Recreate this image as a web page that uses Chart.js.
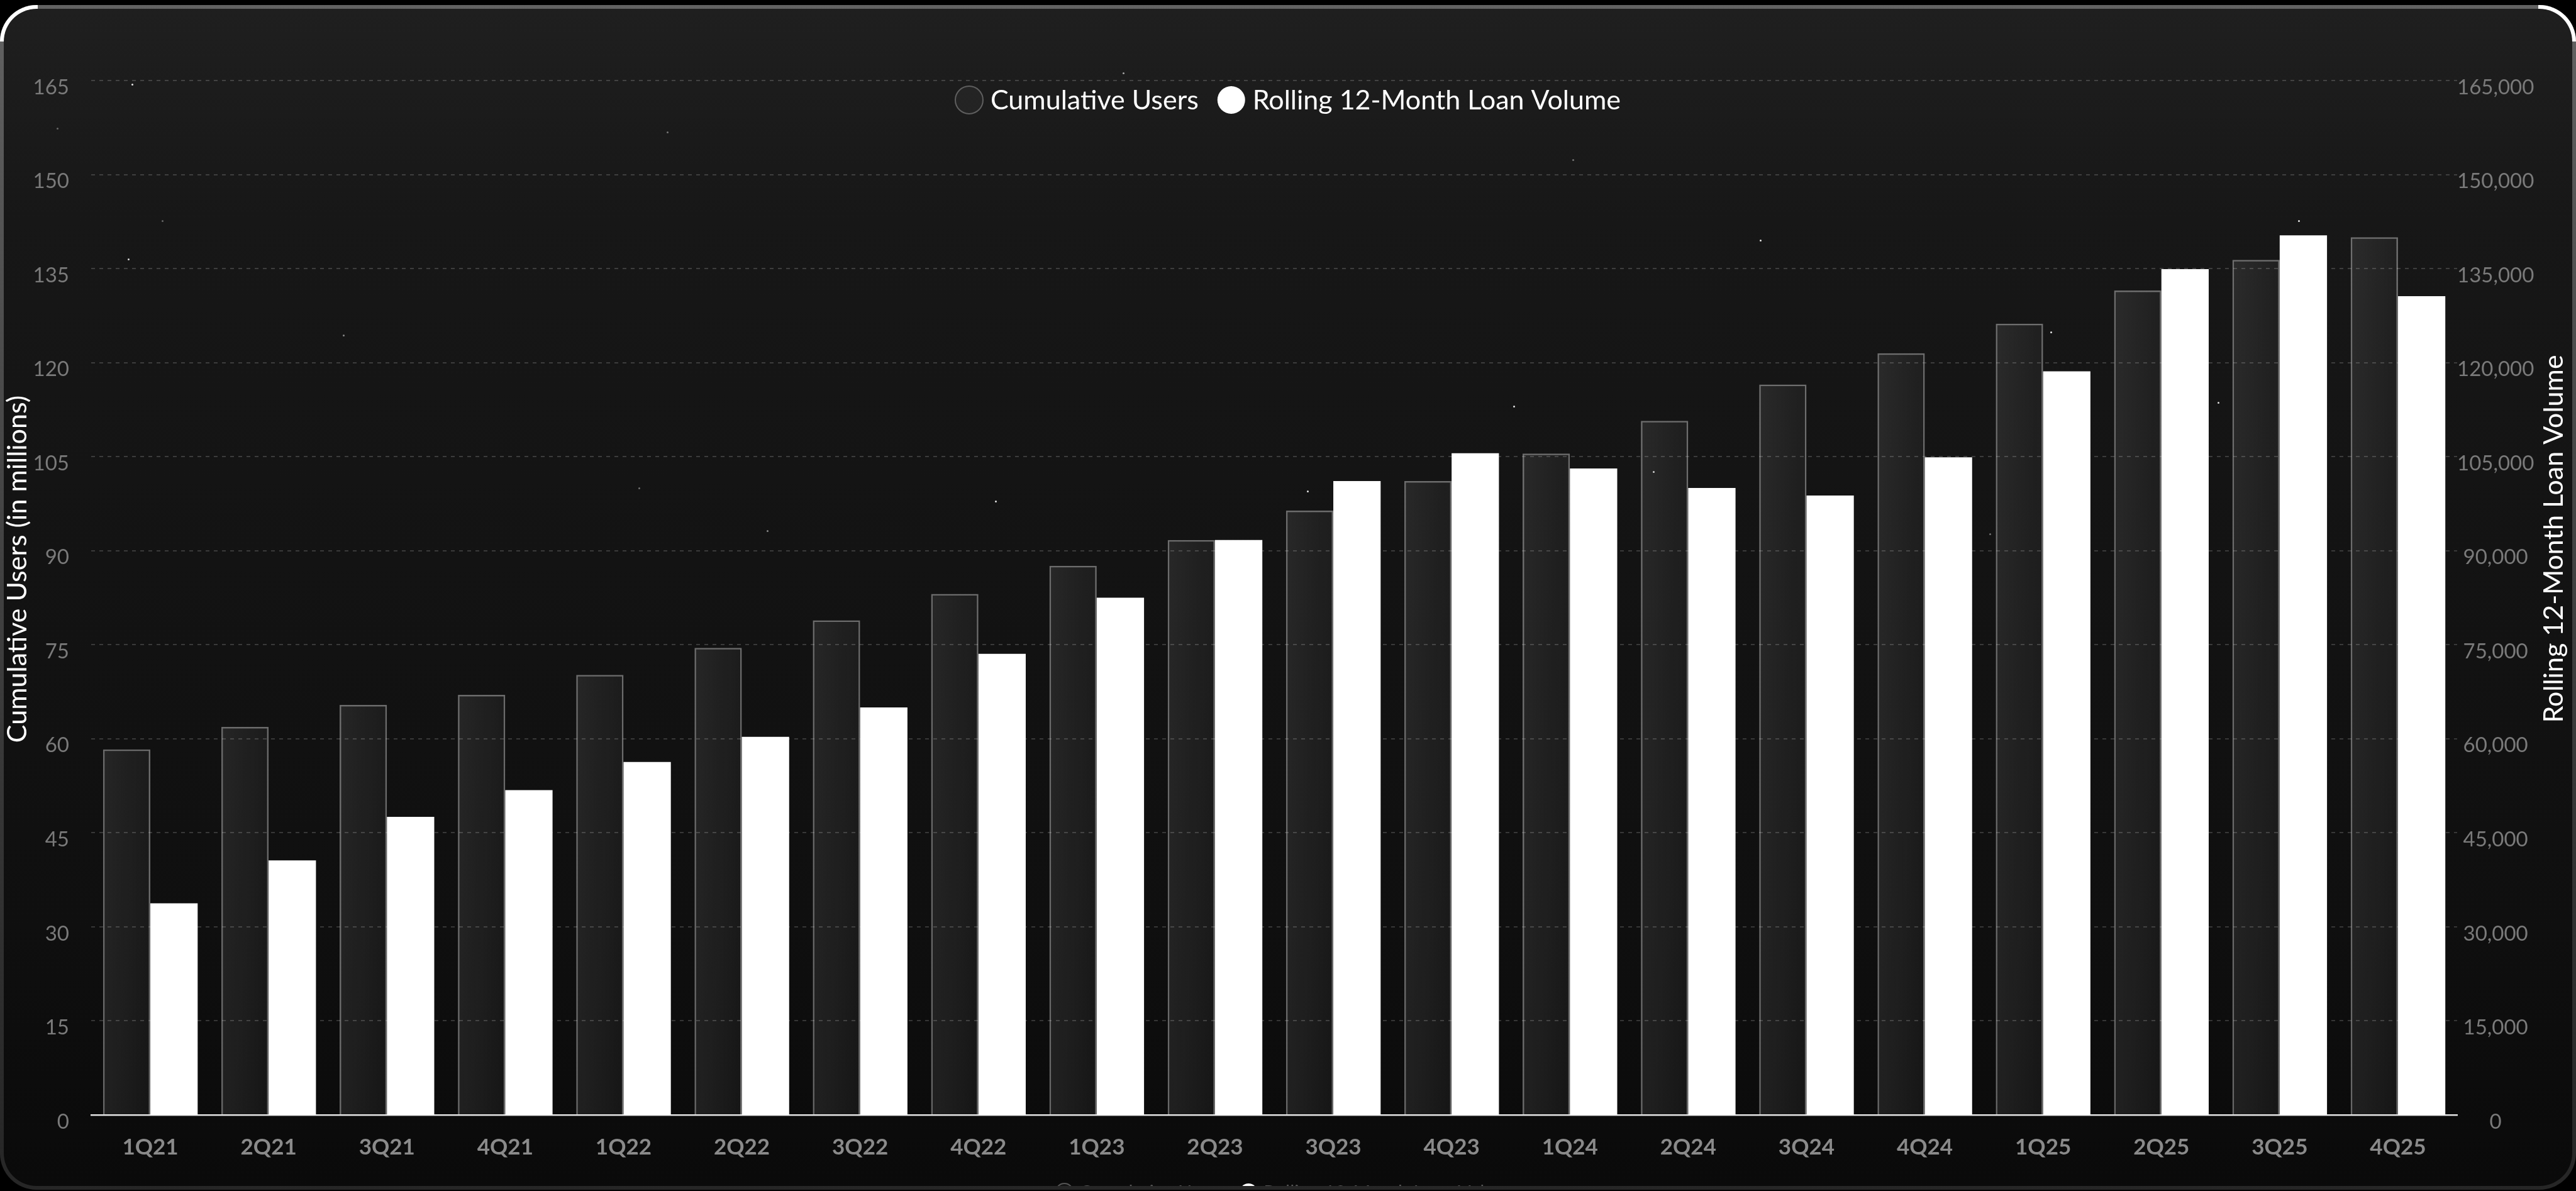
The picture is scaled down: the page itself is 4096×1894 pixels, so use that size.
<!DOCTYPE html>
<html>
<head>
<meta charset="utf-8">
<title>Cumulative Users vs Rolling 12-Month Loan Volume</title>
<script src="https://cdn.jsdelivr.net/npm/chart.js@4.4.1/dist/chart.umd.min.js"></script>
<style>
    html, body { margin: 0; padding: 0; background: #000; }
    body { width: 4096px; height: 1894px; overflow: hidden; position: relative; font-family: Lato, sans-serif; }

    /* outer rim of the card, lighter at the top */
    .rim {
        position: absolute; left: 0; top: 8px; width: 4096px; height: 1884px;
        box-sizing: border-box; padding: 6px; border-radius: 58px;
        background: linear-gradient(180deg, #626262 0%, #4c4c4c 30%, #323232 75%, #262626 100%);
    }
    .card {
        position: relative; width: 100%; height: 100%; border-radius: 52px; overflow: hidden;
        background: linear-gradient(180deg, #1f1f1f 0%, #171717 18%, #131313 47%, #0f0f0f 78%, #0a0a0a 100%);
    }
    /* stage is shifted so canvas pixels match window pixels */
    .stage, .stars { position: absolute; left: -6px; top: -14px; width: 4096px; height: 1894px; }
    .stars span { position: absolute; width: 3px; height: 3px; border-radius: 50%; background: #fff; }

    .glint { position: absolute; top: 8px; width: 60px; height: 58px; box-sizing: border-box; border-top: 6px solid #fff; pointer-events: none; }
    .glint.left { left: 0; border-left: 6px solid #fff; border-top-left-radius: 58px; }
    .glint.right { right: 0; border-right: 6px solid #fff; border-top-right-radius: 58px; }
</style>
</head>
<body>
<div class="rim">
    <div class="card">
        <div class="stars" id="stars"></div>
        <div class="stage"><canvas id="loanChart"></canvas></div>
    </div>
</div>
<div class="glint left"></div>
<div class="glint right"></div>

<script>
// --- data ---
const quarters = ['1Q21', '2Q21', '3Q21', '4Q21', '1Q22', '2Q22', '3Q22', '4Q22', '1Q23', '2Q23',
                  '3Q23', '4Q23', '1Q24', '2Q24', '3Q24', '4Q24', '1Q25', '2Q25', '3Q25', '4Q25'];
const cumulativeUsers = [58.3, 61.9, 65.4, 67.0, 70.2, 74.5, 78.9, 83.1, 87.6, 91.7,
                         96.4, 101.1, 105.5, 110.7, 116.5, 121.5, 126.2, 131.5, 136.4, 140.0];
const loanVolume = [33750, 40600, 47550, 51800, 56300, 60300, 65000, 73550, 82500, 91700,
                    101100, 105550, 103100, 100000, 98800, 104900, 118600, 134900, 140300, 130600];
const seriesNames = ['Cumulative Users', 'Rolling 12-Month Loan Volume'];
const usersAxisTitle = 'Cumulative Users (in millions)';
const loanAxisTitle = 'Rolling 12-Month Loan Volume';
const usersAxisMax = 165, usersAxisStep = 15;
const loanAxisMax = 165000, loanAxisStep = 15000;

// decorative specks in the background [x, y, alpha]
const starDust = [
    [209, 133, 0.9], [90, 203, 0.35], [257, 350, 0.35], [203, 411, 0.85], [545, 532, 0.5],
    [1060, 209, 0.4], [1015, 775, 0.4], [1219, 843, 0.5], [1582, 796, 0.9], [1785, 115, 0.6],
    [2500, 253, 0.4], [2798, 381, 0.9], [3260, 527, 0.9], [3654, 350, 0.9], [3526, 639, 0.85],
    [2406, 645, 0.9], [2078, 780, 0.9], [2628, 749, 0.8], [3163, 848, 0.4]
];

const starBox = document.getElementById('stars');
starDust.forEach(([x, y, a]) => {
    const s = document.createElement('span');
    s.style.left = x + 'px';
    s.style.top = y + 'px';
    s.style.opacity = a;
    starBox.appendChild(s);
});

Chart.defaults.font.family = 'Lato, sans-serif';

// glassy fill for the user bars, lighter on the left edge
function darkBarFill(context) {
    const chart = context.chart;
    const area = chart.chartArea;
    if (!area || context.dataIndex === undefined) return 'rgba(255,255,255,0.06)';
    const slot = area.width / quarters.length;
    const center = chart.scales.x.getPixelForValue(context.dataIndex);
    const g = chart.ctx.createLinearGradient(center - slot * 0.4, 0, center, 0);
    g.addColorStop(0, 'rgba(255,255,255,0.09)');
    g.addColorStop(1, 'rgba(255,255,255,0.045)');
    return g;
}

function drawLegendRow(ctx, centerX, centerY, o) {
    ctx.save();
    ctx.font = `${o.size}px Lato, sans-serif`;
    ctx.textBaseline = 'middle';
    ctx.textAlign = 'left';
    const widths = seriesNames.map(name => o.r * 2 + o.gap + ctx.measureText(name).width);
    const total = widths.reduce((a, b) => a + b, 0) + o.spacing * (seriesNames.length - 1);
    let x = centerX - total / 2;
    seriesNames.forEach((name, i) => {
        ctx.beginPath();
        ctx.arc(x + o.r, centerY, o.r, 0, Math.PI * 2);
        if (i === 0) {
            ctx.fillStyle = 'rgba(255,255,255,0.04)';
            ctx.fill();
            ctx.lineWidth = o.ring;
            ctx.strokeStyle = o.ringColor;
            ctx.stroke();
        } else {
            ctx.fillStyle = '#ffffff';
            ctx.fill();
        }
        ctx.fillStyle = o.color;
        ctx.fillText(name, x + o.r * 2 + o.gap, centerY + 1);
        x += widths[i] + o.spacing;
    });
    ctx.restore();
}

function drawSideTitle(ctx, text, x, y) {
    ctx.save();
    ctx.translate(x, y);
    ctx.rotate(-Math.PI / 2);
    ctx.font = '43px Lato, sans-serif';
    ctx.fillStyle = '#ffffff';
    ctx.textAlign = 'center';
    ctx.textBaseline = 'middle';
    ctx.fillText(text, 0, 0);
    ctx.restore();
}

// legends sit inside the plot (top) and under the axis (bottom, clipped by the card)
const overlayText = {
    id: 'overlayText',
    afterDraw(chart) {
        const ctx = chart.ctx;
        const mid = chart.width / 2;
        drawLegendRow(ctx, mid, 159, { size: 43, r: 22, gap: 12, spacing: 30, ring: 2, ringColor: '#5f5f5f', color: '#ffffff' });
        drawLegendRow(ctx, mid, 1896, { size: 30, r: 14, gap: 10, spacing: 24, ring: 2, ringColor: '#555555', color: '#585858' });
        drawSideTitle(ctx, usersAxisTitle, 28, 905);
        drawSideTitle(ctx, loanAxisTitle, 4061, 857);
    }
};

new Chart(document.getElementById('loanChart'), {
    type: 'bar',
    data: {
        labels: quarters,
        datasets: [{
            label: seriesNames[0],
            data: cumulativeUsers,
            yAxisID: 'y',
            backgroundColor: darkBarFill,
            borderColor: 'rgba(255,255,255,0.38)',
            borderWidth: 2.5,
            borderSkipped: 'start',
            barPercentage: 1,
            categoryPercentage: 0.8
        }, {
            label: seriesNames[1],
            data: loanVolume,
            yAxisID: 'y1',
            backgroundColor: '#ffffff',
            borderWidth: 0,
            barPercentage: 1,
            categoryPercentage: 0.8
        }]
    },
    options: {
        responsive: true,
        maintainAspectRatio: false,
        animation: false,
        layout: { padding: { top: 128, left: 0, right: 0, bottom: 0 } },
        plugins: {
            legend: { display: false },
            title: { display: false },
            tooltip: { enabled: false }
        },
        scales: {
            x: {
                grid: { display: false, drawTicks: false },
                border: { display: true, color: '#e4e4e4', width: 2.5 },
                ticks: {
                    color: '#8a8a8a',
                    font: { size: 35, weight: 'bold' },
                    padding: 31,
                    maxRotation: 0,
                    autoSkip: false
                },
                afterFit: scale => { scale.height = 121; }
            },
            y: {
                position: 'left',
                min: 0,
                max: usersAxisMax,
                grid: { color: 'rgba(255,255,255,0.17)', lineWidth: 2, drawTicks: false },
                border: { display: false, dash: [6, 7] },
                ticks: {
                    stepSize: usersAxisStep,
                    color: '#7a7a7a',
                    font: { size: 33 },
                    padding: 35,
                    labelOffset: 11
                },
                afterFit: scale => { scale.width = 145; }
            },
            y1: {
                position: 'right',
                min: 0,
                max: loanAxisMax,
                grid: { display: false, drawTicks: false },
                border: { display: false },
                ticks: {
                    stepSize: loanAxisStep,
                    color: '#7a7a7a',
                    font: { size: 33 },
                    padding: 0,
                    crossAlign: 'center',
                    labelOffset: 11
                },
                afterFit: scale => { scale.width = 189; }
            }
        }
    },
    plugins: [overlayText]
});
</script>
</body>
</html>
